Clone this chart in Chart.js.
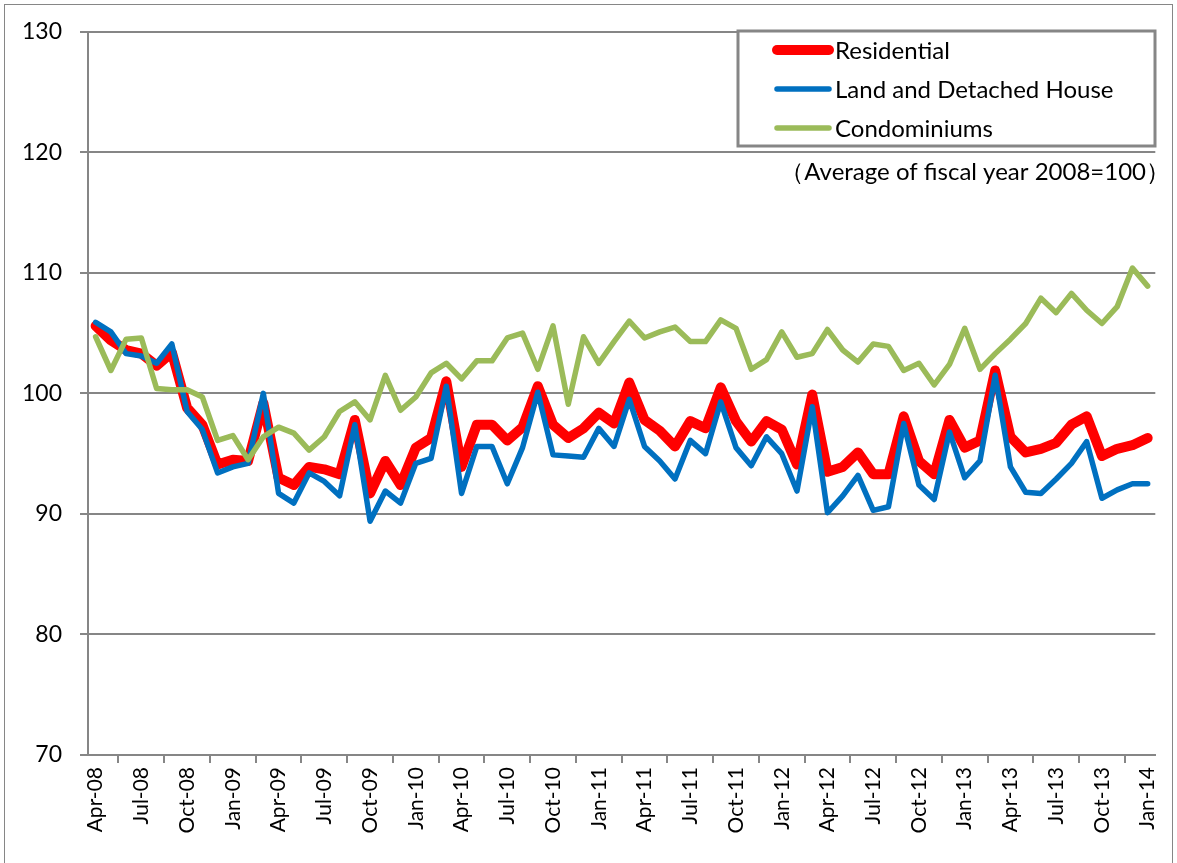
<!DOCTYPE html>
<html>
<head>
<meta charset="utf-8">
<script src="https://cdn.jsdelivr.net/npm/chart.js@4"></script>
<style>
body{margin:0;background:#fff;}
</style>
</head>
<body>
<canvas id="priceChart" width="1177" height="863"></canvas>
<script>
// months, Apr-08 .. Jan-14
const months = [
  'Apr-08','May-08','Jun-08','Jul-08','Aug-08','Sep-08','Oct-08','Nov-08','Dec-08',
  'Jan-09','Feb-09','Mar-09','Apr-09','May-09','Jun-09','Jul-09','Aug-09','Sep-09','Oct-09','Nov-09','Dec-09',
  'Jan-10','Feb-10','Mar-10','Apr-10','May-10','Jun-10','Jul-10','Aug-10','Sep-10','Oct-10','Nov-10','Dec-10',
  'Jan-11','Feb-11','Mar-11','Apr-11','May-11','Jun-11','Jul-11','Aug-11','Sep-11','Oct-11','Nov-11','Dec-11',
  'Jan-12','Feb-12','Mar-12','Apr-12','May-12','Jun-12','Jul-12','Aug-12','Sep-12','Oct-12','Nov-12','Dec-12',
  'Jan-13','Feb-13','Mar-13','Apr-13','May-13','Jun-13','Jul-13','Aug-13','Sep-13','Oct-13','Nov-13','Dec-13',
  'Jan-14'
];

const residential = [
  105.6, 104.4, 103.6, 103.3, 102.3, 103.4, 98.8, 97.4, 94.1, 94.5, 94.4, 99.2, 93.0, 92.4,
  93.9, 93.7, 93.3, 97.8, 91.7, 94.4, 92.4, 95.5, 96.3, 101.0, 93.9, 97.4, 97.4, 96.1,
  97.2, 100.6, 97.4, 96.3, 97.1, 98.4, 97.5, 100.9, 97.8, 96.9, 95.6, 97.7, 97.1, 100.5,
  97.7, 96.0, 97.7, 97.0, 94.1, 99.9, 93.5, 93.9, 95.1, 93.3, 93.3, 98.1, 94.4, 93.3,
  97.8, 95.5, 96.1, 101.9, 96.4, 95.1, 95.4, 95.9, 97.4, 98.1, 94.8, 95.4, 95.7, 96.3
];

const landHouse = [
  105.9, 105.1, 103.3, 103.1, 102.5, 104.1, 98.5, 97.0, 93.4, 93.9, 94.2, 100.0, 91.7, 90.9,
  93.4, 92.7, 91.5, 97.4, 89.4, 91.9, 90.9, 94.2, 94.6, 100.6, 91.7, 95.6, 95.6, 92.5,
  95.5, 100.1, 94.9, 94.8, 94.7, 97.1, 95.6, 99.5, 95.6, 94.4, 92.9, 96.1, 95.0, 99.3,
  95.5, 94.0, 96.4, 95.0, 91.9, 98.9, 90.1, 91.5, 93.2, 90.3, 90.6, 97.5, 92.4, 91.2,
  96.8, 93.0, 94.4, 101.5, 93.9, 91.8, 91.7, 92.9, 94.2, 96.0, 91.3, 92.0, 92.5, 92.5
];

const condos = [
  104.7, 101.9, 104.5, 104.6, 100.4, 100.3, 100.3, 99.7, 96.1, 96.5, 94.5, 96.4, 97.2, 96.7,
  95.3, 96.4, 98.5, 99.3, 97.8, 101.5, 98.6, 99.7, 101.7, 102.5, 101.2, 102.7, 102.7, 104.6,
  105.0, 102.0, 105.6, 99.1, 104.7, 102.5, 104.3, 106.0, 104.6, 105.1, 105.5, 104.3, 104.3, 106.1,
  105.4, 102.0, 102.8, 105.1, 103.0, 103.3, 105.3, 103.6, 102.6, 104.1, 103.9, 101.9, 102.5, 100.7,
  102.4, 105.4, 102.0, 103.3, 104.5, 105.8, 107.9, 106.7, 108.3, 106.9, 105.8, 107.2, 110.4, 108.9
];

const seriesNames = ['Residential', 'Land and Detached House', 'Condominiums'];
const note = '（Average of fiscal year 2008=100）';

const gray = '#868686';
const fontFam = 'Lato, "Noto Sans", sans-serif';

// legend box inside the plot + frame round the chart
const boxLegend = {
  id: 'boxLegend',
  beforeDraw(chart){
    const c = chart.ctx;
    c.save();
    c.strokeStyle = gray;
    c.lineWidth = 1;
    c.strokeRect(4.5, 4.5, 1168, 900);
    c.restore();
  },
  afterDraw(chart){
    const c = chart.ctx;
    c.save();
    c.fillStyle = '#fff';
    c.fillRect(738, 31, 417, 115);
    c.strokeStyle = gray;
    c.lineWidth = 3;
    c.strokeRect(738, 31, 417, 115);
    const rows = [50, 89, 128];
    chart.data.datasets.forEach(function(ds, i){
      c.strokeStyle = ds.borderColor;
      c.lineWidth = ds.borderWidth;
      c.lineCap = 'round';
      c.beginPath();
      c.moveTo(777, rows[i]);
      c.lineTo(829, rows[i]);
      c.stroke();
      c.fillStyle = '#000';
      c.font = '24px ' + fontFam;
      c.textBaseline = 'middle';
      c.textAlign = 'left';
      c.fillText(ds.label, 835, rows[i] + 1);
    });
    c.textAlign = 'right';
    c.font = '24px ' + fontFam;
    c.fillText(note, 1170, 172);
    c.restore();
  }
};

const ctx = document.getElementById('priceChart');

new Chart(ctx, {
  type: 'line',
  data: {
    labels: months,
    datasets: [
      {label: seriesNames[0], data: residential, borderColor: '#ff0000', borderWidth: 10, order: 3},
      {label: seriesNames[1], data: landHouse, borderColor: '#0070c0', borderWidth: 5.5, order: 2},
      {label: seriesNames[2], data: condos, borderColor: '#9bbb59', borderWidth: 5.5, order: 1}
    ]
  },
  options: {
    responsive: false,
    animation: false,
    layout: {padding: {top: 28, right: 18, left: 0, bottom: 0}},
    elements: {
      point: {radius: 0},
      line: {tension: 0, borderJoinStyle: 'round', borderCapStyle: 'round'}
    },
    plugins: {
      legend: {display: false},
      tooltip: {enabled: false}
    },
    scales: {
      x: {
        offset: true,
        grid: {offset: true, drawOnChartArea: false, tickLength: 8, color: gray, lineWidth: 2},
        border: {display: true, color: gray, width: 2},
        ticks: {
          autoSkip: false, minRotation: 90, maxRotation: 90, padding: 4,
          color: '#000', font: {family: fontFam, size: 21},
          callback: function(v, i){ return i % 3 === 0 ? this.getLabelForValue(v) : null; }
        },
        afterFit: function(s){ s.height = 108; }
      },
      y: {
        min: 70, max: 130,
        grid: {color: gray, lineWidth: 2, tickLength: 8},
        border: {color: gray, width: 2},
        ticks: {stepSize: 10, padding: 18, color: '#000', font: {family: fontFam, size: 23}},
        afterFit: function(s){ s.width = 88; }
      }
    }
  },
  plugins: [boxLegend]
});
</script>
</body>
</html>
